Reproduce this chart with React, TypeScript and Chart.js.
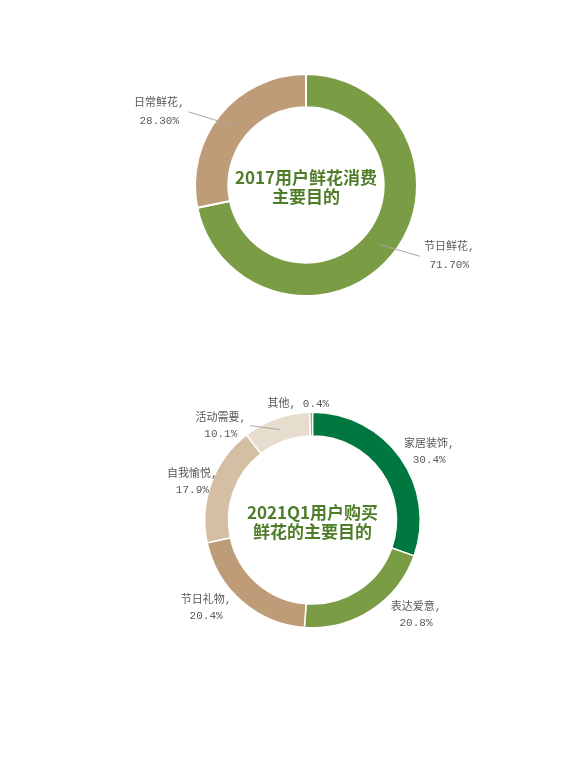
import React, { useEffect, useRef } from "react";
import Chart from "chart.js/auto";

// 2017 consumption purposes
const purposes2017 = ["节日鲜花", "日常鲜花"];
const shares2017 = [71.7, 28.3];
const colors2017 = ["#7a9c45", "#bf9c78"];
const title2017 = ["2017用户鲜花消费", "主要目的"];

// 2021 Q1 purchase purposes
const purposes2021 = ["家居装饰", "表达爱意", "节日礼物", "自我愉悦", "活动需要", "其他"];
const shares2021 = [30.4, 20.8, 20.4, 17.9, 10.1, 0.4];
const colors2021 = ["#00773e", "#7a9c45", "#bf9c78", "#d4bea4", "#e7ddcf", "#7a9c45"];
const title2021 = ["2021Q1用户购买", "鲜花的主要目的"];

const LABEL_FONT = "'Liberation Mono', 'Noto Sans CJK SC', monospace";
const TITLE_FONT = "'Noto Sans CJK SC', 'Noto Sans', sans-serif";

// draws the outside labels (with leader lines) and the centre title
const ringLabels = {
  id: "ringLabels",
  afterDatasetsDraw(chart: any, _args: any, opts: any) {
    const { ctx } = chart;
    const meta = chart.getDatasetMeta(0);
    const values = chart.data.datasets[0].data as number[];
    const names = chart.data.labels as string[];
    let cx = 0;
    let cy = 0;
    ctx.save();
    ctx.font = `${opts.fontSize}px ${LABEL_FONT}`;
    ctx.textAlign = "center";
    ctx.textBaseline = "middle";
    meta.data.forEach((el: any, i: number) => {
      const { x, y, startAngle, endAngle, innerRadius, outerRadius } = el.getProps(
        ["x", "y", "startAngle", "endAngle", "innerRadius", "outerRadius"],
        true
      );
      cx = x;
      cy = y;
      const mid = (startAngle + endAngle) / 2;
      const a = mid + ((opts.turn[i] || 0) * Math.PI) / 180;
      const r = outerRadius + (opts.gap[i] || 0);
      const ax = x + Math.cos(a) * r;
      const ay = y + Math.sin(a) * r;
      const pct = values[i].toFixed(opts.decimals) + "%";
      const lines = values[i] < 1 ? [names[i] + ", " + pct] : [names[i] + ",", pct];
      const w = Math.max(...lines.map((l) => ctx.measureText(l).width));
      const h = opts.lineHeight * (lines.length - 1) + opts.fontSize;
      const bx = ax + (Math.cos(a) * w) / 2;
      const by = ay + (Math.sin(a) * h) / 2;
      if (opts.leader[i]) {
        const rm = (innerRadius + outerRadius) / 2;
        const sx = x + Math.cos(mid) * rm;
        const sy = y + Math.sin(mid) * rm;
        const ex = bx < x ? bx + w / 2 + 4 : bx - w / 2 - 4;
        ctx.strokeStyle = "#a6a6a6";
        ctx.lineWidth = 1;
        ctx.beginPath();
        ctx.moveTo(sx, sy);
        ctx.lineTo(ex, by);
        ctx.stroke();
      }
      ctx.fillStyle = "#595959";
      lines.forEach((l, k) => {
        ctx.fillText(l, bx, by - h / 2 + opts.fontSize / 2 + k * opts.lineHeight);
      });
    });
    ctx.font = `bold ${opts.titleSize}px ${TITLE_FONT}`;
    ctx.fillStyle = "#4f7d2a";
    const tl = opts.title as string[];
    const top = cy + 2 - ((tl.length - 1) * opts.titleLine) / 2;
    tl.forEach((t, k) => ctx.fillText(t, cx, top + k * opts.titleLine));
    ctx.restore();
  },
};

type RingProps = {
  labels: string[];
  values: number[];
  colors: string[];
  title: string[];
  cutout: string;
  border: number;
  padding: { left: number; right: number; top: number; bottom: number };
  height: number;
  top: number;
  decimals: number;
  lineHeight: number;
  turn: number[];
  gap: number[];
  leader: boolean[];
};

const Ring: React.FC<RingProps> = (p) => {
  const chartRef = useRef<HTMLCanvasElement>(null);
  const chartInstance = useRef<Chart | null>(null);

  useEffect(() => {
    if (!chartRef.current) return;
    if (chartInstance.current) chartInstance.current.destroy();
    chartInstance.current = new Chart(chartRef.current, {
      type: "doughnut",
      data: {
        labels: p.labels,
        datasets: [
          {
            data: p.values,
            backgroundColor: p.colors,
            borderColor: "#ffffff",
            borderWidth: p.border,
          },
        ],
      },
      options: {
        responsive: false,
        animation: false,
        cutout: p.cutout,
        layout: { padding: p.padding },
        plugins: {
          legend: { display: false },
          tooltip: { enabled: false },
          ringLabels: {
            fontSize: 11,
            lineHeight: p.lineHeight,
            decimals: p.decimals,
            turn: p.turn,
            gap: p.gap,
            leader: p.leader,
            title: p.title,
            titleSize: 17,
            titleLine: 19,
          },
        } as any,
      },
      plugins: [ringLabels as any],
    });
    return () => {
      if (chartInstance.current) {
        chartInstance.current.destroy();
        chartInstance.current = null;
      }
    };
  }, []);

  return (
    <div style={{ position: "absolute", left: 0, top: p.top, width: 578, height: p.height }}>
      <canvas ref={chartRef} width={578} height={p.height} style={{ width: 578, height: p.height }} />
    </div>
  );
};

const App: React.FC = () => (
  <div style={{ position: "absolute", left: 0, top: 0, width: 578, height: 770, background: "#ffffff" }}>
    <Ring
      labels={purposes2017}
      values={shares2017}
      colors={colors2017}
      title={title2017}
      cutout="70%"
      border={2}
      padding={{ left: 194, right: 160, top: 73, bottom: 73 }}
      height={370}
      top={0}
      decimals={2}
      lineHeight={18}
      turn={[-11, -11]}
      gap={[26, 30]}
      leader={[true, true]}
    />
    <Ring
      labels={purposes2021}
      values={shares2021}
      colors={colors2021}
      title={title2021}
      cutout="78%"
      border={1.5}
      padding={{ left: 204, right: 157, top: 41, bottom: 141 }}
      height={400}
      top={370}
      decimals={1}
      lineHeight={16}
      turn={[3, -12, 7, -1, -22, -5]}
      gap={[5, 13, 10, -6, 5, 3]}
      leader={[false, false, false, false, true, false]}
    />
  </div>
);

export default App;
